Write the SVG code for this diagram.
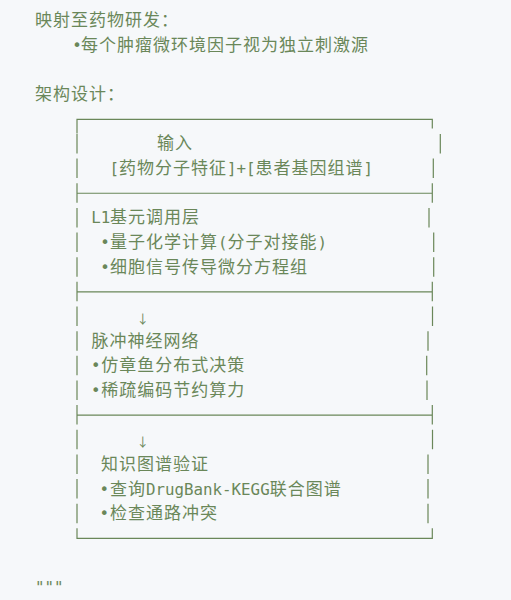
<svg xmlns="http://www.w3.org/2000/svg" width="511" height="600" viewBox="0 0 511 600">
<style>
.t{font-family:"Noto Sans CJK SC","Noto Sans",sans-serif;font-size:17px;letter-spacing:1px;fill:#6a8759}
.m{font-family:"DejaVu Sans Mono","Liberation Mono","Noto Sans CJK SC",monospace;font-size:15.8px;letter-spacing:0px}
.ar{font-family:"Noto Sans CJK SC","DejaVu Sans",sans-serif;font-size:12.5px;fill:#6a8759;text-anchor:middle}
.ln{fill:none;stroke:#6a8759;stroke-width:1.2}
</style>
<rect x="0" y="0" width="511" height="600" fill="#f6f8fa"/>
<g id="header">
<text class="t" x="35" y="26.2">映射至药物研发：</text>
<text class="t" y="50.85"><tspan class="m" x="72.3">•</tspan><tspan x="81">每个肿瘤微环境因子视为独立刺激源</tspan></text>
<text class="t" x="35" y="100.15">架构设计：</text>
</g>
<g id="connectors">
<path class="ln" d="M77 133.5V119.3H432.3V128.5"/>
<path class="ln" d="M77 183.25V202.75M77 193.25H432.3M432.3 183.25V202.75"/>
<path class="ln" d="M77 281.85V301.35M77 291.85H432.3M432.3 281.85V301.35"/>
<path class="ln" d="M77 405.1V424.6M77 415.1H432.3M432.3 405.1V424.6"/>
<path class="ln" d="M77 528.35V538.35H432.3V528.35"/>
<path class="ln" d="M77 133.95V153.45M77 158.6V178.1M77 207.9V227.4M77 232.55V252.05M77 257.2V276.7M77 306.5V326M77 331.15V350.65M77 355.8V375.3M77 380.45V399.95M77 429.75V449.25M77 454.4V473.9M77 479.05V498.55M77 503.7V523.2"/>
<path class="ln" d="M440.3 133.95V153.45M433.3 158.6V178.1M429 207.9V227.4M433.7 232.55V252.05M433.7 257.2V276.7M432.5 306.5V326M428 331.15V350.65M426.7 355.8V375.3M427 380.45V399.95M432.5 429.75V449.25M428 454.4V473.9M428 479.05V498.55M428 503.7V523.2"/>
<text class="ar" x="142.7" y="323.5">↓</text>
<text class="ar" x="142.7" y="446.75">↓</text>
</g>
<g id="input">
<text class="t" x="157" y="149.45">输入</text>
<text class="t" y="174.1"><tspan class="m" x="109.5">[</tspan><tspan x="119">药物分子特征</tspan><tspan class="m" x="227">]+[</tspan><tspan x="255.5">患者基因组谱</tspan><tspan class="m" x="363.5">]</tspan></text>
</g>
<g id="l1-layer">
<text class="t" y="223.4"><tspan class="m" x="91.3">L1</tspan><tspan x="110">基元调用层</tspan></text>
<text class="t" y="248.05"><tspan class="m" x="100.3">•</tspan><tspan x="110">量子化学计算</tspan><tspan class="m" x="218">(</tspan><tspan x="227.5">分子对接能</tspan><tspan class="m" x="317.5">)</tspan></text>
<text class="t" y="272.7"><tspan class="m" x="100.3">•</tspan><tspan x="110">细胞信号传导微分方程组</tspan></text>
</g>
<g id="snn">
<text class="t" x="91.5" y="346.65">脉冲神经网络</text>
<text class="t" y="371.3"><tspan class="m" x="91">•</tspan><tspan x="101.3">仿章鱼分布式决策</tspan></text>
<text class="t" y="395.95"><tspan class="m" x="91">•</tspan><tspan x="101.3">稀疏编码节约算力</tspan></text>
</g>
<g id="kg-verify">
<text class="t" x="101" y="469.9">知识图谱验证</text>
<text class="t" y="494.55"><tspan class="m" x="99.5">•</tspan><tspan x="110">查询</tspan><tspan class="m" x="146">DrugBank-KEGG</tspan><tspan x="269.7">联合图谱</tspan></text>
<text class="t" y="519.2"><tspan class="m" x="99.5">•</tspan><tspan x="110">检查通路冲突</tspan></text>
</g>
<g id="footer">
<text class="t" y="593.15"><tspan class="m" x="35">"""</tspan></text>
</g>
</svg>
